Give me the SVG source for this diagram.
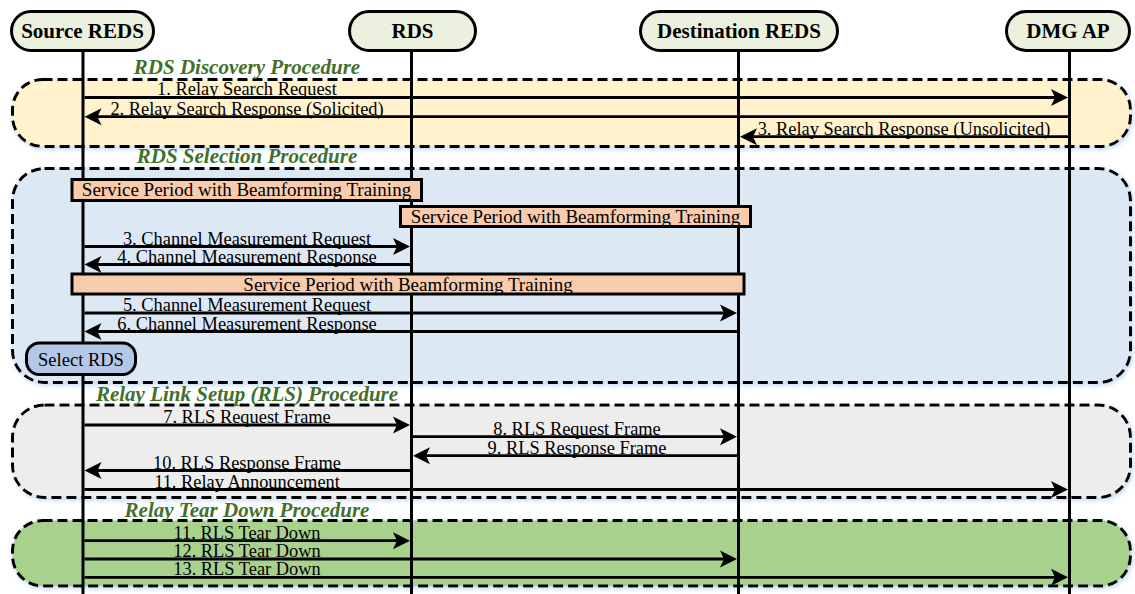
<svg xmlns="http://www.w3.org/2000/svg" width="1135" height="594" viewBox="0 0 1135 594">
<style>
.hdr{fill:#ebf1de;stroke:#000;stroke-width:3}
.hdrt{font-family:"Liberation Serif","Times New Roman",serif;font-weight:bold;font-size:21px;text-anchor:middle;fill:#000}
.life{stroke:#000;stroke-width:3}
.reg{stroke:#000;stroke-width:3;stroke-dasharray:10 5}
.title{font-family:"Liberation Serif","Times New Roman",serif;font-weight:bold;font-style:italic;font-size:21px;text-anchor:middle;fill:#41702a}
.sp{fill:#f8cbad;stroke:#000;stroke-width:3}
.spt{font-family:"Liberation Serif","Times New Roman",serif;font-size:19px;text-anchor:middle;fill:#000}
.msg{stroke:#000;stroke-width:2.8;fill:none;marker-end:url(#ah)}
.lbl{font-family:"Liberation Serif","Times New Roman",serif;font-size:18.4px;text-anchor:middle;fill:#000}
</style>
<defs>
<marker id="ah" markerUnits="userSpaceOnUse" markerWidth="24" markerHeight="20" viewBox="-18 -9 24 18" refX="-4" refY="0" orient="auto">
<path d="M0,0 L-17,-8.5 L-13,0 L-17,8.5 Z" fill="#000"/>
</marker>
<filter id="glow" x="-5%" y="-20%" width="110%" height="140%">
<feDropShadow dx="1.5" dy="2" stdDeviation="2" flood-color="#9dc3e6" flood-opacity="0.6"/>
</filter>
</defs>
<rect width="1135" height="594" fill="#fff"/>

<g id="regions">
<g id="rds-discovery">
<rect class="reg" x="12.5" y="79.5" width="1118" height="67" rx="30" fill="#fff2cc" filter="url(#glow)"/>
<text class="title" x="247" y="74">RDS Discovery Procedure</text>
</g>
<g id="rds-selection">
<rect class="reg" x="12.5" y="168.5" width="1118" height="214" rx="32" fill="#dde8f5" filter="url(#glow)"/>
<text class="title" x="247" y="163">RDS Selection Procedure</text>
</g>
<g id="rls-setup">
<rect class="reg" x="12.5" y="405" width="1118" height="92.5" rx="32" fill="#ededed" filter="url(#glow)"/>
<text class="title" x="247" y="401">Relay Link Setup (RLS) Procedure</text>
</g>
<g id="relay-teardown">
<rect class="reg" x="12.5" y="520.5" width="1118" height="65.5" rx="30" fill="#a9d18e" filter="url(#glow)"/>
<text class="title" x="247" y="517">Relay Tear Down Procedure</text>
</g>
</g>

<g id="lifelines">
<line class="life" x1="83" y1="51" x2="83" y2="594"/>
<line class="life" x1="411.5" y1="51" x2="411.5" y2="594"/>
<line class="life" x1="738.5" y1="51" x2="738.5" y2="594"/>
<line class="life" x1="1069.5" y1="51" x2="1069.5" y2="594"/>
</g>

<g id="source-reds">
<rect class="hdr" x="11.5" y="11.5" width="142" height="39" rx="19.5"/>
<text class="hdrt" x="82.5" y="38">Source REDS</text>
</g>
<g id="rds">
<rect class="hdr" x="349.5" y="11.5" width="126" height="39" rx="19.5"/>
<text class="hdrt" x="412.5" y="38">RDS</text>
</g>
<g id="destination-reds">
<rect class="hdr" x="640.5" y="11.5" width="197" height="39" rx="19.5"/>
<text class="hdrt" x="739" y="38">Destination REDS</text>
</g>
<g id="dmg-ap">
<rect class="hdr" x="1006.5" y="11.5" width="123" height="39" rx="19.5"/>
<text class="hdrt" x="1068" y="38">DMG AP</text>
</g>

<g id="sp-1">
<rect class="sp" x="72" y="179.5" width="349.5" height="21"/>
<text class="spt" x="246.5" y="196">Service Period with Beamforming Training</text>
</g>
<g id="sp-2">
<rect class="sp" x="400.5" y="206.5" width="350" height="20"/>
<text class="spt" x="575.5" y="222.5">Service Period with Beamforming Training</text>
</g>
<g id="sp-3">
<rect class="sp" x="72" y="274" width="672" height="20"/>
<text class="spt" x="408" y="290.5">Service Period with Beamforming Training</text>
</g>
<g id="select-rds">
<rect x="26.5" y="343" width="109" height="31.5" rx="13" fill="#b4c7e7" stroke="#000" stroke-width="3"/>
<text class="spt" x="81" y="366" style="font-size:18.5px">Select RDS</text>
</g>

<g id="connectors">
<line class="msg" x1="84.5" y1="97.5" x2="1064" y2="97.5"/>
<text class="lbl" x="247" y="95">1. Relay Search Request</text>
<line class="msg" x1="1068" y1="116.7" x2="88.5" y2="116.7"/>
<text class="lbl" x="247" y="114.5">2. Relay Search Response (Solicited)</text>
<line class="msg" x1="1068" y1="136.7" x2="744" y2="136.7"/>
<text class="lbl" x="904" y="134.5">3. Relay Search Response (Unsolicited)</text>

<line class="msg" x1="84.5" y1="246.5" x2="406" y2="246.5"/>
<text class="lbl" x="247" y="244.5">3. Channel Measurement Request</text>
<line class="msg" x1="410" y1="264.5" x2="88.5" y2="264.5"/>
<text class="lbl" x="247" y="262.5">4. Channel Measurement Response</text>
<line class="msg" x1="84.5" y1="313" x2="733" y2="313"/>
<text class="lbl" x="247" y="311">5. Channel Measurement Request</text>
<line class="msg" x1="737" y1="331.5" x2="88.5" y2="331.5"/>
<text class="lbl" x="247" y="329.5">6. Channel Measurement Response</text>

<line class="msg" x1="84.5" y1="425" x2="406" y2="425"/>
<text class="lbl" x="247" y="423">7. RLS Request Frame</text>
<line class="msg" x1="413" y1="436.7" x2="733" y2="436.7"/>
<text class="lbl" x="577" y="434.8">8. RLS Request Frame</text>
<line class="msg" x1="737" y1="455.7" x2="417" y2="455.7"/>
<text class="lbl" x="577" y="453.5">9. RLS Response Frame</text>
<line class="msg" x1="410" y1="470.5" x2="88.5" y2="470.5"/>
<text class="lbl" x="247" y="468.5">10. RLS Response Frame</text>
<line class="msg" x1="84.5" y1="489.5" x2="1064" y2="489.5"/>
<text class="lbl" x="247" y="487.5">11. Relay Announcement</text>

<line class="msg" x1="84.5" y1="540.7" x2="406" y2="540.7"/>
<text class="lbl" x="247" y="538.7">11. RLS Tear Down</text>
<line class="msg" x1="84.5" y1="559" x2="733" y2="559"/>
<text class="lbl" x="247" y="557">12. RLS Tear Down</text>
<line class="msg" x1="84.5" y1="577.3" x2="1064" y2="577.3"/>
<text class="lbl" x="247" y="575.3">13. RLS Tear Down</text>
</g>
</svg>
